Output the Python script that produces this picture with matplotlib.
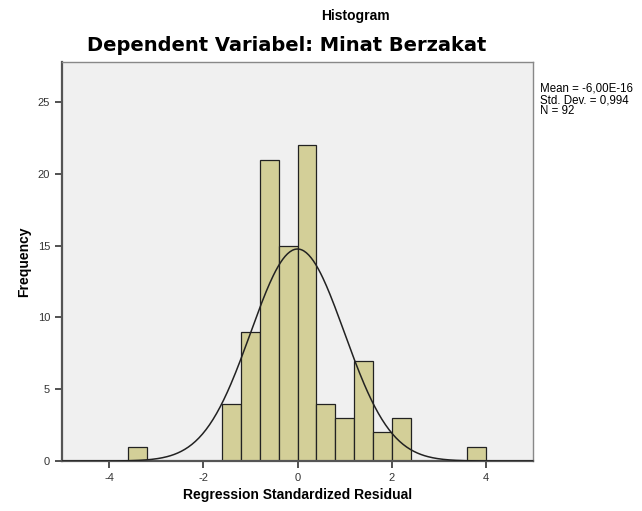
import numpy as np
import matplotlib
matplotlib.use("Agg")
import matplotlib.pyplot as plt

# bin edges (left) and counts, bin width 0.4
bin_left = [-3.6, -1.6, -1.2, -0.8, -0.4, 0.0, 0.4, 0.8, 1.2, 1.6, 2.0, 3.6]
counts = [1, 4, 9, 21, 15, 22, 4, 3, 7, 2, 3, 1]
width = 0.4
mean, sd, n = 0.0, 0.994, 92
stats_text = "Mean = -6,00E-16\nStd. Dev. = 0,994\nN = 92"

plt.rcParams['font.family'] = ['Liberation Sans', 'DejaVu Sans']
plt.rcParams['axes.unicode_minus'] = False

fig = plt.figure(figsize=(6.42, 5.11), dpi=100)
ax = fig.add_axes([0.0966, 0.0978, 0.7336, 0.7809])
ax.set_facecolor('#f0f0f0')

ax.bar(bin_left, counts, width=width, align='edge', color='#d3cf98',
       edgecolor='#222222', linewidth=0.9, zorder=2)

# normal curve scaled to counts
xs = np.linspace(-5, 5, 400)
ys = n * width / (sd * np.sqrt(2 * np.pi)) * np.exp(-0.5 * ((xs - mean) / sd) ** 2)
ax.plot(xs, ys, color='#222222', linewidth=1.1, zorder=3)

ax.set_xlim(-5, 5)
ax.set_ylim(0, 27.8)
ax.set_xticks([-4, -2, 0, 2, 4])
ax.set_yticks([0, 5, 10, 15, 20, 25])
ax.tick_params(labelsize=8, colors='#333333', length=5, width=1.2)

for side in ['left', 'bottom']:
    ax.spines[side].set_color('#555555')
    ax.spines[side].set_linewidth(1.6)
for side in ['top', 'right']:
    ax.spines[side].set_color('#888888')
    ax.spines[side].set_linewidth(1.0)

ax.set_xlabel('Regression Standardized Residual', fontsize=10, fontweight='bold', labelpad=4)
ax.set_ylabel('Frequency', fontsize=10, fontweight='bold', labelpad=5)

fig.text(0.553, 0.969, 'Histogram', fontsize=10, fontweight='bold', ha='center', va='center')
fig.text(0.446, 0.91, 'Dependent Variabel: Minat Berzakat', fontsize=14, fontweight='bold',
         ha='center', va='center', family='DejaVu Sans')
fig.text(0.841, 0.838, stats_text, fontsize=8.3, ha='left', va='top', linespacing=0.92)

fig.savefig('out.png', dpi=100)
